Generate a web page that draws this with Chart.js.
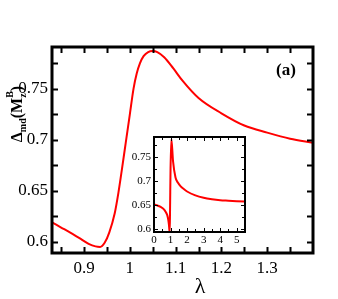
<!DOCTYPE html>
<html>
<head>
<meta charset="utf-8">
<script src="https://cdn.jsdelivr.net/npm/chart.js@4.4.0/dist/chart.umd.min.js"></script>
<style>
  body { margin: 0; background: #fff; }
  #wrap { position: relative; width: 338px; height: 299px; }
  #main { position: absolute; left: 0; top: 0; }
  #inset { position: absolute; left: 120px; top: 125px; }
  .pre { position: absolute; left: -999px; font-family: 'Liberation Serif'; }
</style>
</head>
<body>
<span class="pre">0.75 λ</span><span class="pre" style="font-weight:bold">(a) Δ</span>
<div id="wrap">
  <canvas id="main" width="338" height="299"></canvas>
  <canvas id="inset" width="135" height="125"></canvas>
</div>
<script>
// main panel, lambda vs Delta_md(M_z^B)
const lambdaMain = [0.83, 0.85, 0.87, 0.89, 0.91, 0.925, 0.935, 0.945, 0.955, 0.967, 0.975, 0.983, 0.991, 1.0,
  1.008, 1.015, 1.022, 1.03, 1.04, 1.05, 1.06, 1.075, 1.095, 1.115, 1.15, 1.2, 1.25, 1.3, 1.35, 1.4];
const deltaMain = [0.619, 0.614, 0.609, 0.6035, 0.598, 0.5955, 0.595, 0.599, 0.609, 0.628, 0.648, 0.672, 0.697, 0.725,
  0.750, 0.765, 0.775, 0.782, 0.786, 0.787, 0.786, 0.781, 0.770, 0.758, 0.741, 0.726, 0.714, 0.707, 0.701, 0.697];
const xTicksMain = [0.9, 1, 1.1, 1.2, 1.3];
const xLabelsMain = ['0.9', '1', '1.1', '1.2', '1.3'];
const xMinorMain = [0.85, 0.95, 1.05, 1.15, 1.25, 1.35];
const yTicksMain = [0.6, 0.65, 0.7, 0.75];
const yLabelsMain = ['0.6', '0.65', '0.7', '0.75'];
const yMinorMain = [0.625, 0.675, 0.725, 0.775];

// inset, wide lambda range
const lambdaInset = [0, 0.2, 0.4, 0.6, 0.7, 0.8, 0.86, 0.9, 0.93, 0.95, 0.97, 1.0, 1.05, 1.15, 1.3, 1.45,
  1.6, 1.8, 2.0, 2.5, 3.0, 3.5, 4.0, 4.5, 5.0, 5.5];
const deltaInset = [0.651, 0.649, 0.646, 0.641, 0.636, 0.629, 0.620, 0.610, 0.598, 0.595, 0.640, 0.725, 0.787,
  0.741, 0.707, 0.696, 0.689, 0.683, 0.678, 0.670, 0.665, 0.662, 0.660, 0.659, 0.658, 0.657];
const xTicksInset = [0, 1, 2, 3, 4, 5];
const xLabelsInset = ['0', '1', '2', '3', '4', '5'];
const xMinorInset = [0.5, 1.5, 2.5, 3.5, 4.5];
const yTicksInset = [0.6, 0.65, 0.7, 0.75];
const yLabelsInset = ['0.6', '0.65', '0.7', '0.75'];
const yMinorInset = [0.625, 0.675, 0.725, 0.775];

const SERIF = "'Liberation Serif', 'Times New Roman', serif";

// inward ticks on all four sides + box frame
const frameTicks = {
  id: 'frameTicks',
  afterDatasetsDraw(chart, args, o) {
    const { ctx, chartArea: a, scales: { x, y } } = chart;
    ctx.save();
    ctx.strokeStyle = '#000';
    ctx.lineWidth = o.tickWidth;
    ctx.beginPath();
    const xm = (vals, len) => vals.forEach(v => {
      const p = Math.round(x.getPixelForValue(v)) + 0.5;
      ctx.moveTo(p, a.bottom); ctx.lineTo(p, a.bottom - len);
      ctx.moveTo(p, a.top); ctx.lineTo(p, a.top + len);
    });
    const ym = (vals, len) => vals.forEach(v => {
      const p = Math.round(y.getPixelForValue(v)) + 0.5;
      ctx.moveTo(a.left, p); ctx.lineTo(a.left + len, p);
      ctx.moveTo(a.right, p); ctx.lineTo(a.right - len, p);
    });
    xm(o.xMajor, o.major); xm(o.xMinor, o.minor);
    ym(o.yMajor, o.major); ym(o.yMinor, o.minor);
    ctx.stroke();
    ctx.lineWidth = o.frameWidth;
    ctx.strokeRect(a.left, a.top, a.right - a.left, a.bottom - a.top);
    ctx.restore();
  }
};

// axis titles and panel tag for the main panel
const mainText = {
  id: 'mainText',
  afterDraw(chart) {
    const ctx = chart.ctx;
    ctx.save();
    ctx.fillStyle = '#000';
    ctx.textBaseline = 'alphabetic';

    // x title
    ctx.font = '22px ' + SERIF;
    ctx.textAlign = 'center';
    ctx.fillText('λ', 200, 293);

    // panel tag
    ctx.font = 'bold 17px ' + SERIF;
    ctx.textBaseline = 'middle';
    ctx.fillText('(a)', 286, 71);

    // y title: Δ_md(M_z^B), rotated
    ctx.textBaseline = 'alphabetic';
    ctx.textAlign = 'left';
    ctx.translate(22, 114);
    ctx.rotate(-Math.PI / 2);
    const big = 'bold 16px ' + SERIF, small = 'bold 10px ' + SERIF;
    const parts = [
      { t: 'Δ', f: big, dy: 0 },
      { t: 'md', f: small, dy: 4 },
      { t: '(M', f: big, dy: 0 },
      { t: 'z', f: small, dy: 4, pair: 'B' },
      { t: ')', f: big, dy: 0 }
    ];
    let w = 0;
    parts.forEach(p => {
      ctx.font = p.f;
      p.w = ctx.measureText(p.t).width;
      if (p.pair) p.w = Math.max(p.w, ctx.measureText(p.pair).width);
      w += p.w;
    });
    let cx = -w / 2;
    parts.forEach(p => {
      ctx.font = p.f;
      ctx.fillText(p.t, cx, p.dy);
      if (p.pair) ctx.fillText(p.pair, cx, -9);
      cx += p.w;
    });
    ctx.restore();
  }
};

function axisOpts(min, max, ticks, labels, font, pad, fit) {
  return {
    type: 'linear', min, max,
    afterBuildTicks: s => { s.ticks = ticks.map(v => ({ value: v })); },
    afterFit: fit,
    grid: { display: false, drawTicks: false },
    border: { display: false },
    ticks: {
      autoSkip: false, maxRotation: 0, padding: pad, color: '#000',
      font: { family: SERIF, size: font },
      callback: (v, i) => labels[i]
    }
  };
}

function draw() {
  new Chart(document.getElementById('main'), {
    type: 'line',
    data: {
      datasets: [{
        data: lambdaMain.map((l, i) => ({ x: l, y: deltaMain[i] })),
        borderColor: '#ff0000', borderWidth: 2, pointRadius: 0,
        cubicInterpolationMode: 'monotone', fill: false
      }]
    },
    options: {
      responsive: false, animation: false, devicePixelRatio: 1,
      layout: { padding: { top: 47, right: 25, left: 0, bottom: 0 } },
      plugins: {
        legend: { display: false }, tooltip: { enabled: false },
        frameTicks: {
          tickWidth: 2, frameWidth: 3, major: 6, minor: 6,
          xMajor: xTicksMain, xMinor: xMinorMain, yMajor: yTicksMain, yMinor: yMinorMain
        }
      },
      scales: {
        x: axisOpts(0.83, 1.4, xTicksMain, xLabelsMain, 17, 5, s => { s.height = 46; }),
        y: axisOpts(0.589, 0.791, yTicksMain, yLabelsMain, 17, 4, s => { s.width = 52; })
      }
    },
    plugins: [frameTicks, mainText]
  });

  new Chart(document.getElementById('inset'), {
    type: 'line',
    data: {
      datasets: [{
        data: lambdaInset.map((l, i) => ({ x: l, y: deltaInset[i] })),
        borderColor: '#ff0000', borderWidth: 2, pointRadius: 0,
        cubicInterpolationMode: 'monotone', fill: false, clip: 0
      }]
    },
    options: {
      responsive: false, animation: false, devicePixelRatio: 1,
      layout: { padding: { top: 12, right: 10, left: 0, bottom: 0 } },
      plugins: {
        legend: { display: false }, tooltip: { enabled: false },
        frameTicks: {
          tickWidth: 1, frameWidth: 2, major: 4, minor: 3,
          xMajor: xTicksInset, xMinor: xMinorInset, yMajor: yTicksInset, yMinor: yMinorInset
        }
      },
      scales: {
        x: axisOpts(0, 5.5, xTicksInset, xLabelsInset, 11, 2, s => { s.height = 18; }),
        y: axisOpts(0.594, 0.791, yTicksInset, yLabelsInset, 11, 3, s => { s.width = 34; })
      }
    },
    plugins: [frameTicks]
  });
}

Promise.all([
  document.fonts.load("17px 'Liberation Serif'"),
  document.fonts.load("bold 17px 'Liberation Serif'")
]).then(draw, draw);
</script>
</body>
</html>
